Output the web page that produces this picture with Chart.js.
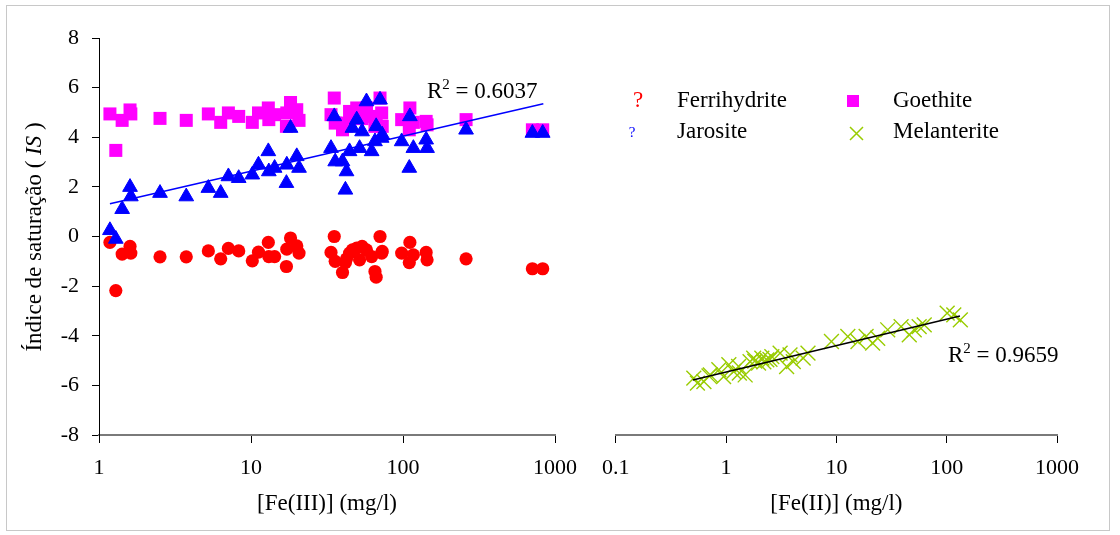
<!DOCTYPE html>
<html>
<head>
<meta charset="utf-8">
<script src="https://cdn.jsdelivr.net/npm/chart.js@4.4.1/dist/chart.umd.min.js"></script>
<style>
  html, body { margin: 0; padding: 0; background: #fff; }
  #wrap { position: relative; width: 1120px; height: 535px; overflow: hidden; background: #fff; }
  #frame { position: absolute; left: 6px; top: 5px; width: 1104px; height: 526px;
           border: 1.5px solid #c8c8c8; box-sizing: border-box; }
  #left  { position: absolute; left: 0;     top: 0; width: 590px; height: 535px; }
  #right { position: absolute; left: 590px; top: 0; width: 530px; height: 535px; }
</style>
</head>
<body>
<div id="wrap">
  <div id="frame"></div>
  <div id="left"><canvas id="cl" width="590" height="535"></canvas></div>
  <div id="right"><canvas id="cr" width="530" height="535"></canvas></div>
</div>
<script>
// Fe(III) concentration of each sample (mg/l)
const fe3 = [1.18, 1.29, 1.42, 1.60, 1.62, 2.52, 3.75, 5.24, 6.32, 7.1, 8.3, 10.2, 11.2, 13.0, 13.1,
             14.3, 17.1, 17.2, 18.2, 20.0, 20.7, 33.6, 35.3, 35.8, 40.0, 41.8, 42.5, 44.5, 46.5, 49.6,
             51.8, 53.8, 57.5, 62.2, 65.4, 66.6, 70.6, 72.4, 73.0, 98, 110, 111, 117, 142, 144, 260,
             710, 830];
// Saturation index of each mineral for those samples
const isFerrihydrite = [-0.24, -2.18, -0.71, -0.40, -0.67, -0.82, -0.82, -0.58, -0.90, -0.48, -0.58, -0.98,
                        -0.63, -0.24, -0.81, -0.81, -1.21, -0.51, -0.06, -0.38, -0.67, -0.64, 0.00, -1.00,
                        -1.45, -1.05, -0.90, -0.67, -0.54, -0.47, -0.94, -0.40, -0.54, -0.81, -1.41, -1.64,
                        0.00, -0.67, -0.60, -0.67, -1.05, -0.24, -0.74, -0.64, -0.94, -0.90, -1.30, -1.30];
const isGoethite = [4.94, 3.47, 4.68, 5.10, 4.94, 4.76, 4.68, 4.94, 4.60, 4.98, 4.84, 4.60, 4.98, 5.18, 4.71,
                    4.91, 4.44, 4.98, 5.40, 5.11, 4.68, 4.91, 5.58, 4.57, 4.30, 4.57, 4.45, 5.04, 4.80, 5.18,
                    4.98, 4.75, 5.18, 4.84, 4.44, 4.71, 5.58, 4.98, 4.44, 4.71, 4.30, 5.18, 4.60, 4.64, 4.50,
                    4.71, 4.30, 4.30];
const isJarosite = [0.25, -0.10, 1.10, 1.99, 1.61, 1.75, 1.61, 1.95, 1.75, 2.42, 2.35, 2.49, 2.89, 3.43, 2.62,
                    2.76, 2.15, 2.89, 4.37, 3.23, 2.76, 3.56, 4.84, 3.02, 3.02, 1.88, 2.62, 3.43, 4.37, 4.71,
                    3.56, 4.23, 5.44, 3.43, 3.83, 4.44, 5.51, 3.97, 4.10, 3.83, 2.76, 4.84, 3.56, 3.90, 3.56,
                    4.30, 4.17, 4.17];

// Fe(II) concentration (mg/l) and melanterite saturation index
const fe2 = [0.51, 0.55, 0.63, 0.70, 0.72, 0.86, 0.95, 1.06, 1.17, 1.30, 1.32, 1.49, 1.65, 1.78, 1.82, 1.97,
             2.11, 2.20, 2.34, 2.50, 2.60, 3.09, 3.54, 3.80, 4.07, 5.00, 5.53, 9.02, 12.7, 15.7, 18.6, 21.3,
             23.7, 29.2, 38.6, 45.8, 50.8, 56.3, 62.6, 101, 116, 133];
const isMelanterite = [-5.71, -5.91, -5.85, -5.62, -5.58, -5.37, -5.65, -5.17, -5.44, -5.24, -5.50, -5.58,
                       -5.04, -4.90, -5.02, -5.10, -4.90, -5.05, -4.97, -4.95, -4.84, -4.70, -5.24, -4.77,
                       -5.04, -4.90, -4.70, -4.23, -4.03, -4.23, -4.03, -4.30, -4.10, -3.76, -3.63, -3.96,
                       -3.76, -3.63, -3.56, -3.09, -3.16, -3.36];

// Logarithmic trend lines (end points)
const jarTrendX = [1.18, 838];
const jarTrendY = [1.32, 5.35];
const melTrendX = [0.50, 132];
const melTrendY = [-5.78, -3.20];

// Axis tick values
const yTicks = [-8, -6, -4, -2, 0, 2, 4, 6, 8];
const fe3Ticks = [1, 10, 100, 1000];
const fe2Ticks = [0.1, 1, 10, 100, 1000];

const SERIF = "'Liberation Serif', 'Times New Roman', serif";
const pts = (xs, ys) => xs.map((x, i) => ({ x, y: ys[i] }));

function segText(ctx, parts, x, y, align) {
  // parts: [{t, size, italic, dy}]
  let total = 0;
  parts.forEach(p => {
    ctx.font = (p.italic ? 'italic ' : '') + p.size + 'px ' + SERIF;
    p.w = ctx.measureText(p.t).width;
    total += p.w;
  });
  let cx = align === 'center' ? x - total / 2 : x;
  ctx.textAlign = 'left';
  ctx.textBaseline = 'alphabetic';
  parts.forEach(p => {
    ctx.font = (p.italic ? 'italic ' : '') + p.size + 'px ' + SERIF;
    ctx.fillText(p.t, cx, y + (p.dy || 0));
    cx += p.w;
  });
}

function xScale(ticks, min, max, title) {
  return {
    type: 'logarithmic', position: 'bottom', min, max,
    afterBuildTicks: s => { s.ticks = ticks.map(v => ({ value: v })); },
    afterFit: s => { s.height = 100; },
    ticks: {
      autoSkip: false, maxRotation: 0, padding: 12, color: '#000',
      font: { family: SERIF, size: 22 },
      callback: v => String(v)
    },
    grid: { drawOnChartArea: false, drawTicks: true, tickLength: 8, color: '#000', tickWidth: 1 },
    border: { display: true, color: '#7a7a7a', width: 2 },
    title: {
      display: true, text: title, color: '#000',
      font: { family: SERIF, size: 23 }, padding: { top: 0, bottom: 17 }
    }
  };
}

function yScale(show) {
  return {
    type: 'linear', min: -8, max: 8, display: show,
    afterBuildTicks: s => { s.ticks = yTicks.map(v => ({ value: v })); },
    afterFit: s => { s.width = show ? 99 : 0; },
    ticks: { padding: 13, color: '#000', font: { family: SERIF, size: 22 } },
    grid: { drawOnChartArea: false, drawTicks: true, tickLength: 7, color: '#000' },
    border: { display: true, color: '#000', width: 1 }
  };
}

const common = {
  responsive: false, animation: false, devicePixelRatio: 1, events: [],
  plugins: { legend: { display: false }, tooltip: { enabled: false } }
};

// Left panel: y-axis title and R² of the jarosite trend
const leftText = {
  id: 'leftText',
  afterDraw(chart) {
    const ctx = chart.ctx;
    ctx.save();
    ctx.fillStyle = '#000';
    ctx.translate(41, 237);
    ctx.rotate(-Math.PI / 2);
    segText(ctx, [
      { t: 'Índice de saturação ( ', size: 23 },
      { t: 'IS', size: 23, italic: true },
      { t: ' )', size: 23 }
    ], 0, 0, 'center');
    ctx.restore();
    ctx.save();
    ctx.fillStyle = '#000';
    segText(ctx, [
      { t: 'R', size: 23 }, { t: '2', size: 15, dy: -9 }, { t: ' = 0.6037', size: 23 }
    ], 427, 98, 'left');
    ctx.restore();
  }
};

// Right panel: legend and R² of the melanterite trend
const rightText = {
  id: 'rightText',
  afterDraw(chart) {
    const ctx = chart.ctx;
    const ox = 590; // canvas offset within the page
    ctx.save();
    ctx.textBaseline = 'alphabetic';
    ctx.textAlign = 'center';
    ctx.fillStyle = '#ff0000';
    ctx.font = '23px ' + SERIF;
    ctx.fillText('?', 638 - ox, 107);
    ctx.fillStyle = '#0000ff';
    ctx.font = '15px ' + SERIF;
    ctx.fillText('?', 632 - ox, 137);
    ctx.fillStyle = '#ff00ff';
    ctx.fillRect(847 - ox, 95, 12, 12);
    ctx.strokeStyle = '#99cc00';
    ctx.lineWidth = 1.5;
    ctx.beginPath();
    ctx.moveTo(850 - ox, 127); ctx.lineTo(863 - ox, 140);
    ctx.moveTo(863 - ox, 127); ctx.lineTo(850 - ox, 140);
    ctx.stroke();
    ctx.fillStyle = '#000';
    ctx.textAlign = 'left';
    ctx.font = '23px ' + SERIF;
    ctx.fillText('Ferrihydrite', 677 - ox, 107);
    ctx.fillText('Jarosite', 677 - ox, 138);
    ctx.fillText('Goethite', 893 - ox, 107);
    ctx.fillText('Melanterite', 893 - ox, 138);
    segText(ctx, [
      { t: 'R', size: 23 }, { t: '2', size: 15, dy: -9 }, { t: ' = 0.9659', size: 23 }
    ], 948 - ox, 362, 'left');
    ctx.restore();
  }
};

new Chart(document.getElementById('cl'), {
  type: 'scatter',
  data: {
    datasets: [
      { label: 'Jarosite trend', data: pts(jarTrendX, jarTrendY), showLine: true,
        borderColor: '#0000ff', borderWidth: 1.5, pointRadius: 0, order: 0 },
      { label: 'Jarosite', data: pts(fe3, isJarosite), pointStyle: 'triangle', pointRadius: 8.5,
        backgroundColor: '#0000ff', borderColor: '#0000ff', borderWidth: 1, order: 1 },
      { label: 'Goethite', data: pts(fe3, isGoethite), pointStyle: 'rect', pointRadius: 9.2,
        backgroundColor: '#ff00ff', borderColor: '#ff00ff', borderWidth: 0, order: 2 },
      { label: 'Ferrihydrite', data: pts(fe3, isFerrihydrite), pointStyle: 'circle', pointRadius: 6.6,
        backgroundColor: '#ff0000', borderColor: '#ff0000', borderWidth: 0, order: 3 }
    ]
  },
  options: Object.assign({}, common, {
    layout: { padding: { left: 0, top: 38, right: 35, bottom: 0 } },
    scales: { x: xScale(fe3Ticks, 1, 1000, '[Fe(III)] (mg/l)'), y: yScale(true) }
  }),
  plugins: [leftText]
});

new Chart(document.getElementById('cr'), {
  type: 'scatter',
  data: {
    datasets: [
      { label: 'Melanterite trend', data: pts(melTrendX, melTrendY), showLine: true,
        borderColor: '#000000', borderWidth: 1.5, pointRadius: 0, order: 0 },
      { label: 'Melanterite', data: pts(fe2, isMelanterite), pointStyle: 'crossRot', pointRadius: 10.5,
        borderColor: '#99cc00', borderWidth: 1.4, backgroundColor: '#99cc00', order: 1 }
    ]
  },
  options: Object.assign({}, common, {
    layout: { padding: { left: 23, top: 38, right: 63, bottom: 0 } },
    scales: { x: xScale(fe2Ticks, 0.1, 1000, '[Fe(II)] (mg/l)'), y: yScale(false) }
  }),
  plugins: [rightText]
});
</script>
</body>
</html>
